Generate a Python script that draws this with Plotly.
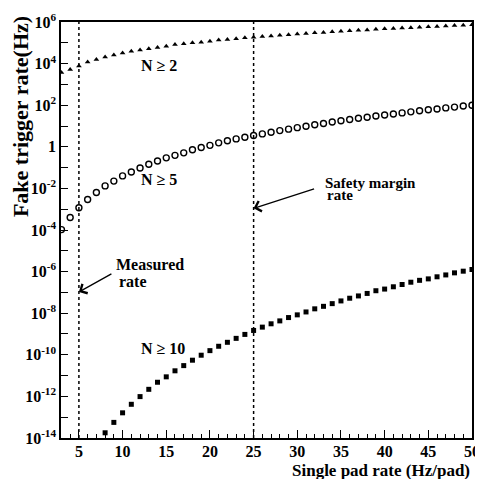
import plotly.graph_objects as go

# Single pad rate (Hz/pad)
x_n2 = list(range(3, 51))
x_n5 = list(range(3, 51))
x_n10 = list(range(8, 51))

# log10 of fake trigger rate (Hz)
log_n2 = [3.57, 3.72, 3.89, 4.08, 4.20, 4.32, 4.41, 4.51, 4.60, 4.65, 4.71, 4.77, 4.84,
          4.92, 4.95, 5.00, 5.03, 5.08, 5.13, 5.16, 5.20, 5.24, 5.27, 5.30,
          5.33, 5.36, 5.39, 5.42, 5.45, 5.48, 5.50, 5.53, 5.55, 5.58, 5.60, 5.62,
          5.65, 5.67, 5.69, 5.71, 5.73, 5.75, 5.77, 5.79, 5.81, 5.83, 5.85, 5.87]
log_n5 = [-3.98, -3.40, -2.93, -2.53, -2.20, -1.88, -1.65, -1.40, -1.21, -1.02, -0.84,
          -0.68, -0.53, -0.41, -0.29, -0.14, -0.03, 0.07, 0.19, 0.29, 0.38, 0.46, 0.54,
          0.62, 0.70, 0.78, 0.85, 0.92, 0.99, 1.06, 1.12, 1.19, 1.25, 1.31, 1.37, 1.42,
          1.48, 1.53, 1.58, 1.63, 1.68, 1.73, 1.78, 1.82, 1.87, 1.91, 1.96, 2.00]
log_n10 = [-13.75, -13.25, -12.79, -12.38, -12.01, -11.66, -11.32, -11.06, -10.77,
           -10.52, -10.26, -10.02, -9.80, -9.59, -9.40, -9.21, -9.02, -8.83, -8.67,
           -8.51, -8.37, -8.21, -8.08, -7.94, -7.79, -7.67, -7.54, -7.41, -7.28, -7.17,
           -7.05, -6.92, -6.84, -6.73, -6.62, -6.51, -6.42, -6.35, -6.25, -6.16, -6.06,
           -5.98, -5.90]

y_n2 = [10 ** v for v in log_n2]
y_n5 = [10 ** v for v in log_n5]
y_n10 = [10 ** v for v in log_n10]

measured_rate = 5
safety_rate = 25

x_ticks = [5, 10, 15, 20, 25, 30, 35, 40, 45, 50]
y_major_exps = list(range(-14, 7, 2))
y_minor_exps = list(range(-13, 6, 2))
y_tickvals = [10.0 ** e for e in y_major_exps]
y_ticktext = ["1" if e == 0 else "10<sup>%d</sup>" % e for e in y_major_exps]
y_minorvals = [10.0 ** e for e in y_minor_exps]

FONT = "Liberation Serif"

fig = go.Figure()
fig.add_trace(go.Scatter(x=x_n2, y=y_n2, mode="markers",
                         marker=dict(symbol="triangle-up", size=5, color="black")))
fig.add_trace(go.Scatter(x=x_n5, y=y_n5, mode="markers",
                         marker=dict(symbol="circle-open", size=6, color="black",
                                     line=dict(width=1.4, color="black"))))
fig.add_trace(go.Scatter(x=x_n10, y=y_n10, mode="markers",
                         marker=dict(symbol="square", size=5, color="black")))

for xv in (measured_rate, safety_rate):
    fig.add_shape(type="line", xref="x", yref="paper", x0=xv, x1=xv, y0=0, y1=1,
                  line=dict(color="black", width=1.5, dash="dot"))

tf = dict(family=FONT, size=16, color="black", weight="bold")
fig.update_xaxes(range=[2.95, 50.002], showline=True, linecolor="black", linewidth=1.5,
                 mirror=True, ticks="inside", ticklen=8, tickwidth=1, tickcolor="black",
                 tickmode="array", tickvals=x_ticks, tickfont=tf, showgrid=False,
                 zeroline=False, ticklabelstandoff=-2, ticklabeloverflow="allow",
                 minor=dict(dtick=1, ticks="inside", ticklen=4, tickcolor="black",
                            showgrid=False))
fig.update_yaxes(type="log", range=[-14.0005, 6.0005], showline=True, linecolor="black",
                 linewidth=1.5, mirror=True, ticks="inside", ticklen=7, tickwidth=1,
                 tickcolor="black", tickmode="array", tickvals=y_tickvals,
                 ticktext=y_ticktext, tickfont=tf, showgrid=False, zeroline=False,
                 ticklabeloverflow="allow",
                 minor=dict(tickmode="array", tickvals=y_minorvals, ticks="inside",
                            ticklen=7, tickcolor="black", showgrid=False))

af = dict(family=FONT, color="black", weight="bold")
ann = [
    dict(text="N \u2265 2", x=0.238, y=0.895, size=16),
    dict(text="N \u2265 5", x=0.238, y=0.622, size=16),
    dict(text="N \u2265 10", x=0.248, y=0.214, size=16),
]
for a in ann:
    fig.add_annotation(text=a["text"], xref="paper", yref="paper", x=a["x"], y=a["y"],
                       showarrow=False, xanchor="center", yanchor="middle",
                       font=dict(af, size=a["size"]))

fig.add_annotation(text="Safety margin", xref="paper", yref="paper", x=0.637, y=0.614,
                   xanchor="left", yanchor="middle", showarrow=False, font=dict(af, size=15))
fig.add_annotation(text="rate", xref="paper", yref="paper", x=0.643, y=0.583,
                   xanchor="left", yanchor="middle", showarrow=False, font=dict(af, size=15))
fig.add_annotation(text="Measured", xref="paper", yref="paper", x=0.129, y=0.416,
                   xanchor="left", yanchor="middle", showarrow=False, font=dict(af, size=16))
fig.add_annotation(text="rate", xref="paper", yref="paper", x=0.136, y=0.377,
                   xanchor="left", yanchor="middle", showarrow=False, font=dict(af, size=16))

# arrows (tip at the dotted lines)
fig.add_annotation(text=" ", x=safety_rate, y=-2.96, xref="x", yref="y", ax=62, ay=-20,
                   showarrow=True, arrowhead=4, arrowsize=1.6, arrowwidth=1.3,
                   arrowcolor="black", font=dict(size=1))
fig.add_annotation(text=" ", x=measured_rate, y=-6.98, xref="x", yref="y", ax=34, ay=-19,
                   showarrow=True, arrowhead=4, arrowsize=1.6, arrowwidth=1.3,
                   arrowcolor="black", font=dict(size=1))

# axis titles
fig.add_annotation(text="Single pad rate (Hz/pad)", xref="paper", yref="paper",
                   x=1.0, y=-0.077, xanchor="right", yanchor="middle", showarrow=False,
                   font=dict(af, size=17))
fig.add_annotation(text="Fake trigger rate(Hz)", xref="paper", yref="paper",
                   x=-0.1, y=1.02, xanchor="center", yanchor="top", textangle=-90,
                   showarrow=False, font=dict(af, size=22))

# page body has an 8px default margin, so the figure is sized to fit 483x479
fig.update_layout(width=475, height=471, showlegend=False,
                  margin=dict(l=53, r=3, t=11, b=41),
                  plot_bgcolor="white", paper_bgcolor="white")

fig.write_html("out.html")
